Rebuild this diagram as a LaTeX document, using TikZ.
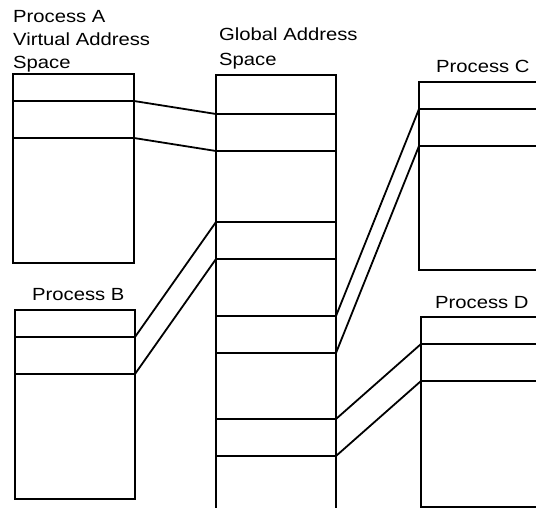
\documentclass[tikz,border=0pt]{standalone}
\usepackage{fontspec}
\setmainfont[FakeStretch=1.15]{Liberation Sans}
\begin{document}
\begin{tikzpicture}[x=1pt,y=-1pt,
  edge/.style={line width=1.8pt},
  frame/.style={draw, line width=1.8pt},
  seg/.style={draw, line width=1.8pt, inner sep=0pt, outer sep=0pt,
    anchor=north west, minimum height=37pt},
  lbl/.style={inner sep=0pt, anchor=base west, font=\fontsize{17.6}{20}\selectfont}]
  \useasboundingbox[fill=white] (0,0) rectangle (536,508);
  \begin{scope}
  \clip (0,0) rectangle (536,508);
  % Process A virtual address space
  \draw[frame] (13,74) rectangle (134,263);
  \node[seg, minimum width=121pt] (A2) at (13,101) {};
  % Global address space (open at the bottom)
  \draw[frame] (216,520) -- (216,75) -- (336,75) -- (336,520);
  \node[seg, minimum width=120pt] (G1) at (216,114) {};
  \node[seg, minimum width=120pt] (G2) at (216,222) {};
  \node[seg, minimum width=120pt] (G3) at (216,316) {};
  \node[seg, minimum width=120pt] (G4) at (216,419) {};
  % Process B
  \draw[frame] (15,310) rectangle (135,499);
  \node[seg, minimum width=120pt] (B2) at (15,337) {};
  % Process C
  \draw[frame] (419,82) rectangle (560,270);
  \node[seg, minimum width=141pt] (C2) at (419,109) {};
  % Process D
  \draw[frame] (421,317) rectangle (560,507);
  \node[seg, minimum width=139pt] (D2) at (421,344) {};
  \end{scope}
  % mappings into the global space
  \draw[edge] (A2.north east) -- (G1.north west);
  \draw[edge] (A2.south east) -- (G1.south west);
  \draw[edge] (B2.north east) -- (G2.north west);
  \draw[edge] (B2.south east) -- (G2.south west);
  \draw[edge] (G3.north east) -- (C2.north west);
  \draw[edge] (G3.south east) -- (C2.south west);
  \draw[edge] (G4.north east) -- (D2.north west);
  \draw[edge] (G4.south east) -- (D2.south west);
  % labels
  \node[lbl] (tA1) at (13,22.7) {Process A};
  \node[lbl] (tA2) at (13,45.7) {Virtual Address};
  \node[lbl] (tA3) at (13,69) {Space};
  \node[lbl] (tG1) at (219,40.7) {Global Address};
  \node[lbl] (tG2) at (219,65.7) {Space};
  \node[lbl] (tB) at (32,300.7) {Process B};
  \node[lbl] (tC) at (436,72.7) {Process C};
  \node[lbl] (tD) at (435,308.3) {Process D};
\end{tikzpicture}
\end{document}
